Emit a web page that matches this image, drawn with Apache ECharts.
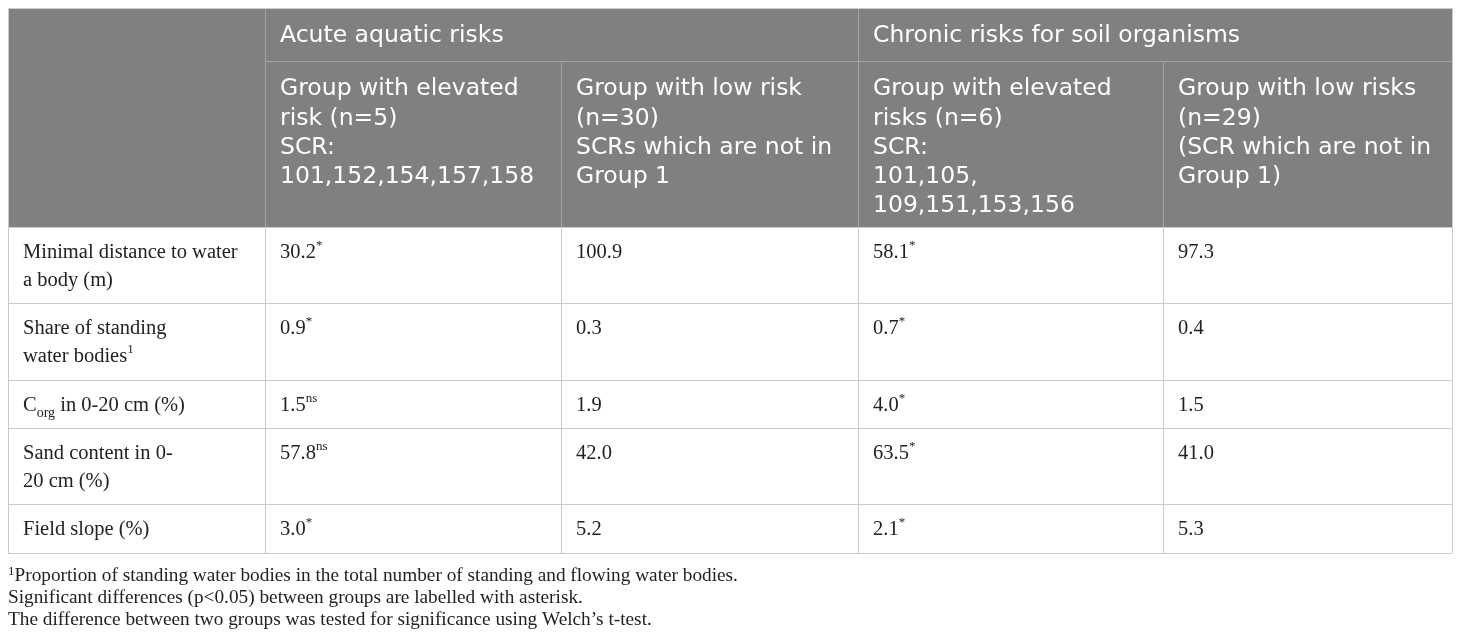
<!DOCTYPE html>
<html>
<head>
<meta charset="utf-8">
<script src="https://cdn.jsdelivr.net/npm/echarts@6/dist/echarts.min.js"></script>
<style>
  html, body { margin: 0; padding: 0; background: #fff; }
  #main { width: 1460px; height: 639px; }
</style>
</head>
<body>
<div id="main"></div>
<script>
// table contents
var groupHeaders = ['Acute aquatic risks', 'Chronic risks for soil organisms'];
var subHeaders = [
    'Group with elevated\nrisk (n=5)\nSCR:\n101,152,154,157,158',
    'Group with low risk\n(n=30)\nSCRs which are not in\nGroup 1',
    'Group with elevated\nrisks (n=6)\nSCR:\n101,105,\n109,151,153,156',
    'Group with low risks\n(n=29)\n(SCR which are not in\nGroup 1)'
];
var rowLabels = [
    'Minimal distance to water\na body (m)',
    'Share of standing\nwater bodies{sup|1}',
    'C{sub|org} in 0-20 cm (%)',
    'Sand content in 0-\n20 cm (%)',
    'Field slope (%)'
];
var acuteHigh = [30.2, 0.9, 1.5, 57.8, 3.0];
var acuteHighMark = ['*', '*', 'ns', 'ns', '*'];
var acuteLow = [100.9, 0.3, 1.9, 42.0, 5.2];
var chronicHigh = [58.1, 0.7, 4.0, 63.5, 2.1];
var chronicHighMark = ['*', '*', '*', '*', '*'];
var chronicLow = [97.3, 0.4, 1.5, 41.0, 5.3];
var footnotes = [
    '{sup|1}Proportion of standing water bodies in the total number of standing and flowing water bodies.',
    'Significant differences (p<0.05) between groups are labelled with asterisk.',
    'The difference between two groups was tested for significance using Welch\u2019s t-test.'
];

// layout
var colX = [8, 265, 561, 858, 1163, 1452];
var rowY = [8, 61, 227, 303, 380, 428, 504, 553];
var padX = 15;
var headFont = '"DejaVu Sans", "Open Sans", sans-serif';
var bodyFont = '"Liberation Serif", "DejaVu Serif", serif';
var headBg = '#808080';
var headLine = '#a3a3a3';
var gridLine = '#cbcbcb';

var richBody = {
    sup: { fontSize: 13, fontFamily: bodyFont, fill: '#222', lineHeight: 20, verticalAlign: 'top' },
    sub: { fontSize: 14, fontFamily: bodyFont, fill: '#222', lineHeight: 14, verticalAlign: 'bottom' }
};

function line(x1, y1, x2, y2, color) {
    return {
        type: 'line', silent: true,
        shape: { x1: x1, y1: y1, x2: x2, y2: y2 },
        style: { stroke: color, lineWidth: 1 }
    };
}

function headText(x, y, txt, lh, vAlign) {
    return {
        type: 'text', silent: true, x: x, y: y,
        style: {
            text: txt, fill: '#fff', fontFamily: headFont, fontSize: 23.5,
            lineHeight: lh, verticalAlign: vAlign, align: 'left'
        }
    };
}

function bodyText(x, y, txt, size, lh) {
    return {
        type: 'text', silent: true, x: x, y: y,
        style: {
            text: txt, fill: '#222', fontFamily: bodyFont, fontSize: size,
            lineHeight: lh, verticalAlign: 'top', align: 'left', rich: richBody
        }
    };
}

function fmt(v, mark) {
    return v.toFixed(1) + (mark ? '{sup|' + mark + '}' : '');
}

function buildTable() {
    var els = [];
    var xl = colX[0], xr = colX[colX.length - 1];
    var yEnd = rowY[rowY.length - 1];

    // header background
    els.push({
        type: 'rect', silent: true,
        shape: { x: xl, y: rowY[0], width: xr - xl, height: rowY[2] - rowY[0] },
        style: { fill: headBg }
    });
    // header inner lines
    els.push(line(colX[1], rowY[1] + 0.5, xr, rowY[1] + 0.5, headLine));
    els.push(line(colX[1] + 0.5, rowY[0], colX[1] + 0.5, rowY[2], headLine));
    els.push(line(colX[3] + 0.5, rowY[0], colX[3] + 0.5, rowY[2], headLine));
    els.push(line(colX[2] + 0.5, rowY[1], colX[2] + 0.5, rowY[2], headLine));
    els.push(line(colX[4] + 0.5, rowY[1], colX[4] + 0.5, rowY[2], headLine));

    // body grid
    els.push(line(xl, rowY[0] + 0.5, xr, rowY[0] + 0.5, gridLine));
    for (var r = 2; r < rowY.length; r++) {
        els.push(line(xl, rowY[r] + 0.5, xr, rowY[r] + 0.5, gridLine));
    }
    for (var c = 0; c < colX.length; c++) {
        var y0 = (c === 0 || c === colX.length - 1) ? rowY[0] : rowY[2];
        els.push(line(colX[c] + 0.5, y0, colX[c] + 0.5, yEnd, gridLine));
    }

    // header texts
    els.push(headText(colX[1] + padX, (rowY[0] + rowY[1]) / 2 + 1, groupHeaders[0], 29, 'middle'));
    els.push(headText(colX[3] + padX, (rowY[0] + rowY[1]) / 2 + 1, groupHeaders[1], 29, 'middle'));
    for (var i = 0; i < subHeaders.length; i++) {
        els.push(headText(colX[i + 1] + padX, rowY[1] + 13.5, subHeaders[i], 29.3, 'top'));
    }

    // body texts
    for (var k = 0; k < rowLabels.length; k++) {
        var ty = rowY[k + 2] + 12;
        els.push(bodyText(colX[0] + padX, ty, rowLabels[k], 20.5, 28));
        els.push(bodyText(colX[1] + padX, ty, fmt(acuteHigh[k], acuteHighMark[k]), 20.5, 28));
        els.push(bodyText(colX[2] + padX, ty, fmt(acuteLow[k]), 20.5, 28));
        els.push(bodyText(colX[3] + padX, ty, fmt(chronicHigh[k], chronicHighMark[k]), 20.5, 28));
        els.push(bodyText(colX[4] + padX, ty, fmt(chronicLow[k]), 20.5, 28));
    }

    // footnotes
    els.push(bodyText(xl, 565, footnotes.join('\n'), 19.3, 22));
    return els;
}

var myChart = echarts.init(document.getElementById('main'));
var option = {
    backgroundColor: '#fff',
    animation: false,
    graphic: { elements: buildTable() }
};
myChart.setOption(option);
</script>
</body>
</html>
